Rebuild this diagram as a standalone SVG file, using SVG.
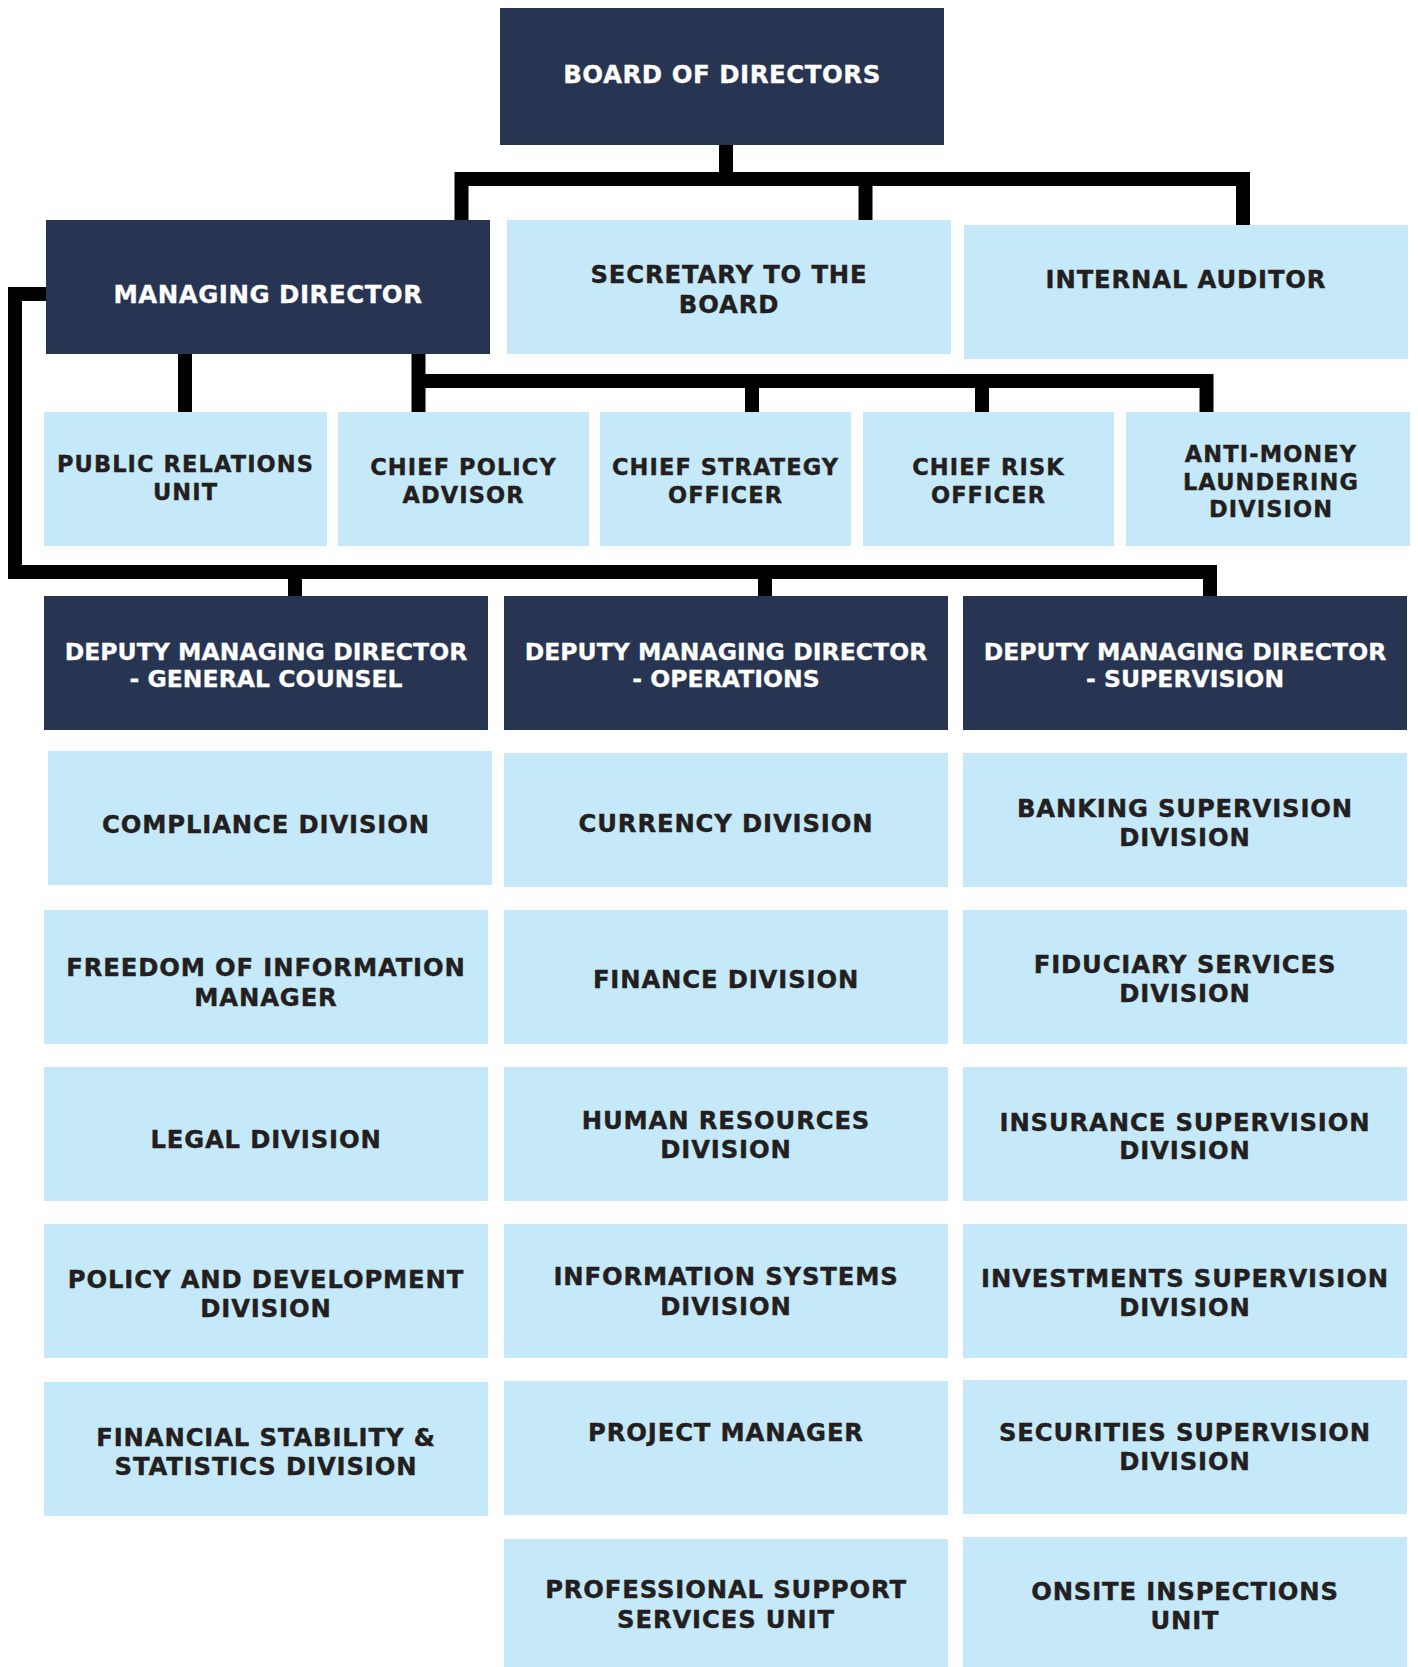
<svg xmlns="http://www.w3.org/2000/svg" width="1418" height="1667" viewBox="0 0 1418 1667">
<style>
.d{fill:#273552}
.l{fill:#c6e9f9}
text{font-family:"DejaVu Sans",Verdana,sans-serif;font-weight:bold;text-anchor:middle}
.w{fill:#ffffff;font-size:23.5px;letter-spacing:0.05px;stroke:#ffffff;stroke-width:0.3px}
.wb{font-size:24.5px;letter-spacing:0.5px}
.k{fill:#231f20;font-size:24.3px;letter-spacing:0.85px;stroke:#231f20;stroke-width:0.4px}
.s{fill:#231f20;font-size:22.5px;letter-spacing:1.1px;stroke:#231f20;stroke-width:0.4px}
.c{fill:none;stroke:#000;stroke-width:14;stroke-linejoin:miter;stroke-linecap:butt}
</style>
<rect width="1418" height="1667" fill="#ffffff"/>
<g id="connectors">
<path class="c" d="M726,144 V179"/>
<path class="c" d="M461.5,221 V179 H1243 V226"/>
<path class="c" d="M865.5,179 V221"/>
<path class="c" d="M185,353 V413"/>
<path class="c" d="M418.5,353 V413"/>
<path class="c" d="M418.5,381 H1206.5 V413"/>
<path class="c" d="M752,381 V413"/>
<path class="c" d="M982,381 V413"/>
<path class="c" d="M47,294 H15 V572 H1210 V597"/>
<path class="c" d="M295,572 V597"/>
<path class="c" d="M765,572 V597"/>
</g>
<g id="board"><rect class="d" x="500" y="8" width="444" height="137"/><text class="w wb" x="722" y="83">BOARD OF DIRECTORS</text></g>
<g id="md"><rect class="d" x="46" y="220" width="444" height="134"/><text class="w wb" x="268" y="303">MANAGING DIRECTOR</text></g>
<g id="secretary"><rect class="l" x="507" y="220" width="444" height="134"/><text class="k" x="729" y="283">SECRETARY TO THE</text><text class="k" x="729" y="312.5">BOARD</text></g>
<g id="auditor"><rect class="l" x="964" y="225" width="444" height="134"/><text class="k" x="1186" y="288">INTERNAL AUDITOR</text></g>
<g id="pr"><rect class="l" x="44" y="412" width="283" height="134"/><text class="s" x="185.5" y="471.5">PUBLIC RELATIONS</text><text class="s" x="185.5" y="500">UNIT</text></g>
<g id="cpa"><rect class="l" x="338" y="412" width="251" height="134"/><text class="s" x="463.5" y="475">CHIEF POLICY</text><text class="s" x="463.5" y="503">ADVISOR</text></g>
<g id="cso"><rect class="l" x="600" y="412" width="251" height="134"/><text class="s" x="725.5" y="475">CHIEF STRATEGY</text><text class="s" x="725.5" y="503">OFFICER</text></g>
<g id="cro"><rect class="l" x="863" y="412" width="251" height="134"/><text class="s" x="988.5" y="475">CHIEF RISK</text><text class="s" x="988.5" y="503">OFFICER</text></g>
<g id="aml"><rect class="l" x="1126" y="412" width="284" height="134"/><text class="s" x="1271" y="461.5">ANTI-MONEY</text><text class="s" x="1271" y="489.5">LAUNDERING</text><text class="s" x="1271" y="517">DIVISION</text></g>
<g id="dmd-gc"><rect class="d" x="44" y="596" width="444" height="134"/><text class="w" x="266" y="660">DEPUTY MANAGING DIRECTOR</text><text class="w" x="266" y="687">- GENERAL COUNSEL</text></g>
<g id="dmd-ops"><rect class="d" x="504" y="596" width="444" height="134"/><text class="w" x="726" y="660">DEPUTY MANAGING DIRECTOR</text><text class="w" x="726" y="687">- OPERATIONS</text></g>
<g id="dmd-sup"><rect class="d" x="963" y="596" width="444" height="134"/><text class="w" x="1185" y="660">DEPUTY MANAGING DIRECTOR</text><text class="w" x="1185" y="687">- SUPERVISION</text></g>
<g id="compliance"><rect class="l" x="48" y="751" width="444" height="134"/><text class="k" x="266" y="833">COMPLIANCE DIVISION</text></g>
<g id="currency"><rect class="l" x="504" y="753" width="444" height="134"/><text class="k" x="726" y="832">CURRENCY DIVISION</text></g>
<g id="banking"><rect class="l" x="963" y="753" width="444" height="134"/><text class="k" x="1185" y="817">BANKING SUPERVISION</text><text class="k" x="1185" y="846">DIVISION</text></g>
<g id="foi"><rect class="l" x="44" y="910" width="444" height="134"/><text class="k" x="266" y="976">FREEDOM OF INFORMATION</text><text class="k" x="266" y="1006">MANAGER</text></g>
<g id="finance"><rect class="l" x="504" y="910" width="444" height="134"/><text class="k" x="726" y="988">FINANCE DIVISION</text></g>
<g id="fiduciary"><rect class="l" x="963" y="910" width="444" height="134"/><text class="k" x="1185" y="973">FIDUCIARY SERVICES</text><text class="k" x="1185" y="1002">DIVISION</text></g>
<g id="legal"><rect class="l" x="44" y="1067" width="444" height="134"/><text class="k" x="266" y="1148">LEGAL DIVISION</text></g>
<g id="hr"><rect class="l" x="504" y="1067" width="444" height="134"/><text class="k" x="726" y="1129">HUMAN RESOURCES</text><text class="k" x="726" y="1158">DIVISION</text></g>
<g id="insurance"><rect class="l" x="963" y="1067" width="444" height="134"/><text class="k" x="1185" y="1131">INSURANCE SUPERVISION</text><text class="k" x="1185" y="1159">DIVISION</text></g>
<g id="policy"><rect class="l" x="44" y="1224" width="444" height="134"/><text class="k" x="266" y="1288">POLICY AND DEVELOPMENT</text><text class="k" x="266" y="1317">DIVISION</text></g>
<g id="infosys"><rect class="l" x="504" y="1224" width="444" height="134"/><text class="k" x="726" y="1285">INFORMATION SYSTEMS</text><text class="k" x="726" y="1315">DIVISION</text></g>
<g id="investments"><rect class="l" x="963" y="1224" width="444" height="134"/><text class="k" x="1185" y="1287">INVESTMENTS SUPERVISION</text><text class="k" x="1185" y="1316">DIVISION</text></g>
<g id="finstab"><rect class="l" x="44" y="1382" width="444" height="134"/><text class="k" x="266" y="1446">FINANCIAL STABILITY &amp;</text><text class="k" x="266" y="1475">STATISTICS DIVISION</text></g>
<g id="project"><rect class="l" x="504" y="1381" width="444" height="134"/><text class="k" x="726" y="1441">PROJECT MANAGER</text></g>
<g id="securities"><rect class="l" x="963" y="1380" width="444" height="134"/><text class="k" x="1185" y="1441">SECURITIES SUPERVISION</text><text class="k" x="1185" y="1470">DIVISION</text></g>
<g id="profsupport"><rect class="l" x="504" y="1539" width="444" height="128"/><text class="k" x="726" y="1598">PROFESSIONAL SUPPORT</text><text class="k" x="726" y="1628">SERVICES UNIT</text></g>
<g id="onsite"><rect class="l" x="963" y="1537" width="444" height="130"/><text class="k" x="1185" y="1600">ONSITE INSPECTIONS</text><text class="k" x="1185" y="1629">UNIT</text></g>
</svg>
